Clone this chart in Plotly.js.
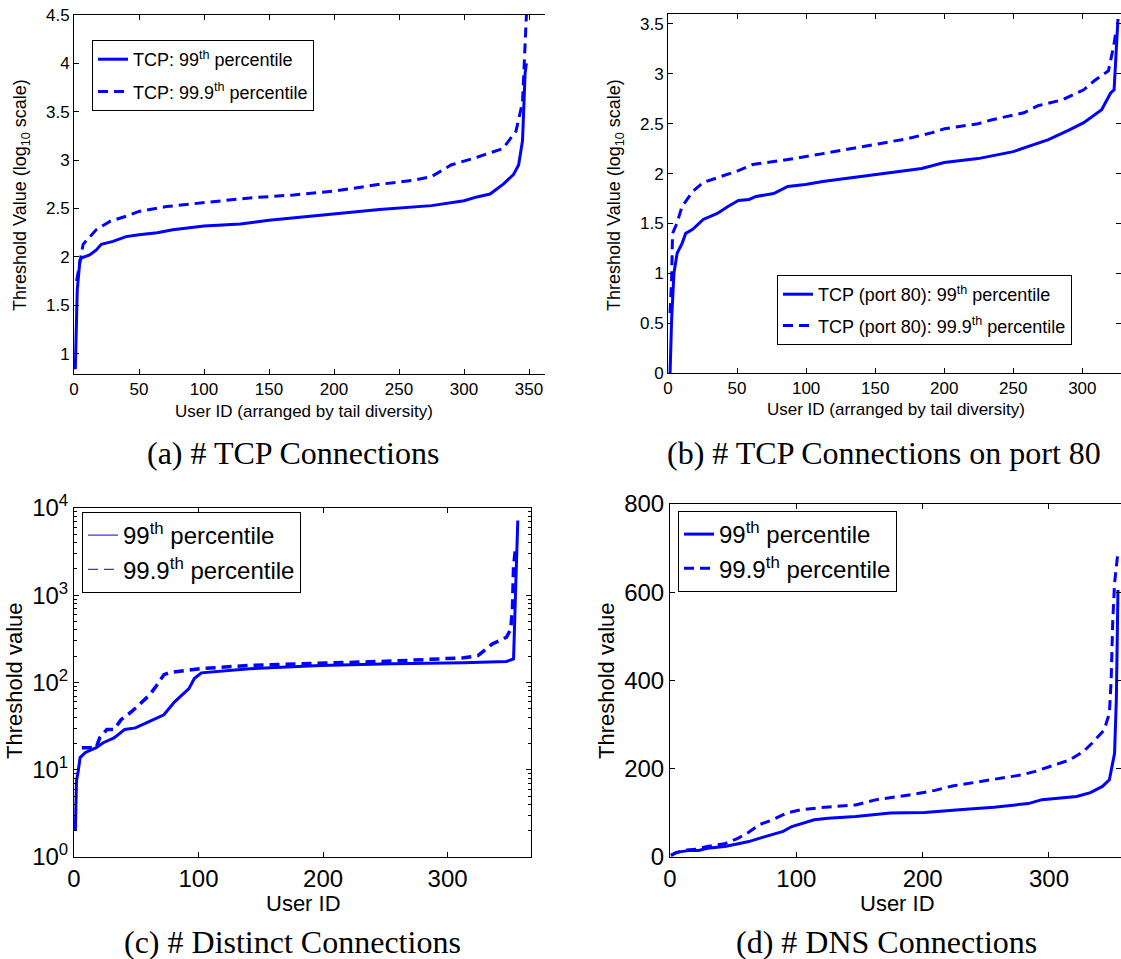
<!DOCTYPE html>
<html><head><meta charset="utf-8">
<script src="https://cdn.plot.ly/plotly-3.0.1.min.js"></script>
<style>html,body{margin:0;padding:0;background:#fff}#chart{width:1121px;height:959px}</style>
</head><body><div id="chart"></div>
<script>
// (a) # TCP Connections  (log10 threshold)
const aX99  = [1, 2.5, 4.6, 6, 12, 17, 21, 30, 40, 50, 64, 76, 100, 128, 150, 174, 200, 235, 275, 300, 310, 320, 330, 338, 342, 345, 347, 348];
const aY99  = [0.84, 1.66, 1.97, 1.99, 2.02, 2.07, 2.13, 2.16, 2.21, 2.23, 2.25, 2.28, 2.32, 2.34, 2.38, 2.41, 2.45, 2.49, 2.53, 2.58, 2.62, 2.65, 2.75, 2.85, 2.95, 3.2, 3.9, 4.0];
const aX999 = [2, 4.6, 7, 17, 28, 40, 50, 71, 100, 135, 169, 200, 235, 260, 275, 290, 310, 330, 340, 345, 348];
const aY999 = [1.75, 1.97, 2.13, 2.28, 2.37, 2.42, 2.47, 2.52, 2.56, 2.61, 2.64, 2.68, 2.75, 2.79, 2.83, 2.95, 3.03, 3.12, 3.3, 3.6, 4.5];
// (b) # TCP Connections on port 80
const bX99  = [1.5, 2.6, 4.3, 6.6, 10.2, 12.8, 17.9, 25.5, 35.7, 43.4, 51, 58.7, 63.8, 76.5, 86.7, 99.5, 112, 150.5, 183.7, 200, 224.5, 250, 260, 275.5, 291, 301, 314, 320.6, 323, 325.8];
const bY99  = [0, 0.53, 1.0, 1.2, 1.3, 1.4, 1.44, 1.54, 1.6, 1.67, 1.73, 1.74, 1.77, 1.8, 1.87, 1.89, 1.92, 1.99, 2.05, 2.11, 2.15, 2.22, 2.27, 2.34, 2.44, 2.51, 2.64, 2.81, 2.84, 3.55];
const bX999 = [1.5, 2.6, 3.3, 6.4, 10.2, 17.9, 25.5, 35.7, 51, 61.2, 86.7, 112.2, 150.5, 173.5, 191.3, 200.3, 224.5, 234.7, 257.7, 267.9, 285.7, 301, 308.7, 318.9, 322.7, 324.5];
const bY999 = [0.6, 0.94, 1.4, 1.5, 1.67, 1.82, 1.91, 1.96, 2.03, 2.09, 2.14, 2.2, 2.29, 2.35, 2.41, 2.45, 2.5, 2.54, 2.61, 2.68, 2.74, 2.84, 2.93, 3.03, 3.28, 3.44];
// (c) # Distinct Connections
const cX99  = [1.1, 2, 3.4, 4.9, 9.2, 17.8, 23.5, 32.1, 40.7, 49.3, 60.7, 72.2, 80.8, 86.5, 92.3, 96.6, 102.3, 141, 198, 255.6, 312.9, 347.3, 353, 354.4, 356.4];
const cY99  = [2.0, 7.5, 9.7, 13.8, 15.8, 17.9, 20.4, 23.2, 28.9, 30.2, 35.9, 42.7, 60, 72, 85, 111, 129, 144, 157, 164, 168, 174, 186, 890, 7200];
const cX999 = [6.3, 17.8, 20.6, 26.4, 32.1, 37.8, 46.4, 55, 60.7, 66.5, 72.2, 77.9, 100.9, 141, 198.3, 255.6, 312.9, 324.4, 335.8, 347.3, 350.7, 352.1, 353, 354.4];
const cY999 = [17.9, 17.9, 23.2, 28.9, 28.9, 37.5, 46.5, 60, 72, 93, 123, 131, 144, 157, 167, 176, 192, 203, 276, 330, 408, 690, 2130, 3300];
// (d) # DNS Connections
const dX99  = [0.8, 4.9, 15.8, 22.7, 29.5, 43.2, 54.1, 62.3, 73.2, 84.2, 89.6, 96.4, 103.3, 114.2, 125.1, 147, 174.3, 201.6, 229, 256.3, 283.6, 294.5, 321.9, 332.8, 342.3, 347.8, 351.9, 353.3, 354.6];
const dY99  = [3, 10.6, 15, 15, 20, 24, 30, 35, 44.5, 54, 58, 69, 75, 84.5, 88, 92, 99.6, 101, 107, 113, 121, 130, 137, 146, 160, 175, 235, 356, 605];
const dX999 = [0.8, 10.4, 21.3, 29.5, 43.2, 54.1, 62.3, 70.5, 81.4, 92.3, 103.3, 119.7, 147, 163.4, 190.7, 209.8, 223.5, 245.4, 261.7, 278.1, 289.1, 300, 316.4, 327.3, 335.5, 343.7, 347.8, 349.2, 350.5, 351.9, 354.6];
const dY999 = [5, 15, 18, 24, 30, 43, 56, 73, 84.5, 99.6, 107, 112, 118, 130, 141, 151, 161, 171, 177, 186, 194, 205, 220, 239, 262, 288, 326, 401, 537, 620, 692];

const legA = ['TCP: 99<sup>th</sup> percentile', 'TCP: 99.9<sup>th</sup> percentile'];
const legB = ['TCP (port 80): 99<sup>th</sup> percentile', 'TCP (port 80): 99.9<sup>th</sup> percentile'];
const legCD = ['99<sup>th</sup> percentile', '99.9<sup>th</sup> percentile'];
const captions = ['(a) # TCP Connections', '(b) # TCP Connections on port 80', '(c) # Distinct Connections', '(d) # DNS Connections'];
const cTickVals = [1, 10, 100, 1000, 10000];
const cTickText = ['10<sup>0</sup>', '10<sup>1</sup>', '10<sup>2</sup>', '10<sup>3</sup>', '10<sup>4</sup>'];
const cMinorTicks = [2, 3, 4, 5, 6, 7, 8, 9, 20, 30, 40, 50, 60, 70, 80, 90, 200, 300, 400, 500, 600, 700, 800, 900,
                     2000, 3000, 4000, 5000, 6000, 7000, 8000, 9000];

const W = 1121, H = 959;
const fx = p => p / W, fy = p => 1 - p / H;
const BLUE = '#0000ff', DASH = '10px,6px';
const SANS = 'Liberation Sans, Arial, sans-serif';
const SERIF = 'Liberation Serif, Times New Roman, serif';

function line(x, y, xa, ya, name, dashed, leg, w, show, grp) {
  return {x, y, xaxis: xa, yaxis: ya, name, type: 'scatter', mode: 'lines',
    line: {color: BLUE, width: w, dash: dashed ? DASH : 'solid'},
    legend: leg, legendgroup: grp, showlegend: show, hoverinfo: 'skip'};
}
const traces = [
  line(aX99, aY99, 'x', 'y', legA[0], false, 'legend', 3, true, 'a1'),
  line(aX999, aY999, 'x', 'y', legA[1], true, 'legend', 3, true, 'a2'),
  line(bX99, bY99, 'x2', 'y2', legB[0], false, 'legend2', 3, true, 'b1'),
  line(bX999, bY999, 'x2', 'y2', legB[1], true, 'legend2', 3, true, 'b2'),
  line([null], [null], 'x3', 'y5', '', false, 'legend3', 1, false, 'c0'),
  line(cX99, cY99, 'x3', 'y3', legCD[0], false, 'legend3', 3, false, 'c1'),
  line(cX999, cY999, 'x3', 'y3', legCD[1], true, 'legend3', 3.5, false, 'c2'),
  line([null], [null], 'x3', 'y3', legCD[0], false, 'legend3', 1, true, 'c1'),
  line([null], [null], 'x3', 'y3', legCD[1], true, 'legend3', 1, true, 'c2'),
  line(dX99, dY99, 'x4', 'y4', legCD[0], false, 'legend4', 3, true, 'd1'),
  line(dX999, dY999, 'x4', 'y4', legCD[1], true, 'legend4', 3, true, 'd2')
];

function ax(extra, fs) {
  return Object.assign({showline: true, linecolor: '#000', linewidth: 1, ticks: 'inside', ticklen: 5,
    tickcolor: '#000', showgrid: false, zeroline: false, tickfont: {family: SANS, size: fs, color: '#000'}}, extra);
}
function legend(x0, y0, fs, gap) {
  return {x: fx(x0), y: fy(y0), xanchor: 'left', yanchor: 'top', bgcolor: '#fff', bordercolor: '#000',
    borderwidth: 1, font: {family: SANS, size: fs, color: '#000'}, tracegroupgap: gap};
}
function ann(text, x, y, fs, fam, angle) {
  return {text, x: fx(x), y: fy(y), xref: 'paper', yref: 'paper', xanchor: 'center', yanchor: 'middle',
    showarrow: false, textangle: angle || 0, font: {family: fam, size: fs, color: '#000'}};
}

const layout = {
  width: W, height: H, margin: {l: 0, r: 0, t: 0, b: 0}, paper_bgcolor: '#fff', plot_bgcolor: '#fff',
  showlegend: true,
  xaxis:  ax({domain: [fx(74), fx(545)], range: [0, 362.3], dtick: 50, tick0: 0, mirror: 'ticks', anchor: 'y'}, 17),
  yaxis:  ax({domain: [fy(374), fy(15)], range: [0.79, 4.5], dtick: 0.5, tick0: 0, mirror: false, anchor: 'x'}, 17),
  xaxis2: ax({domain: [fx(668), 1], range: [0, 328], dtick: 50, tick0: 0, mirror: 'ticks', anchor: 'y2'}, 17),
  yaxis2: ax({domain: [fy(373), fy(14)], range: [0, 3.6], dtick: 0.5, tick0: 0, mirror: 'ticks', anchor: 'x2'}, 17),
  xaxis3: ax({domain: [fx(74), fx(531)], range: [0, 367], dtick: 100, tick0: 0, mirror: 'ticks', anchor: 'y3'}, 24),
  yaxis3: ax({domain: [fy(857), fy(508)], type: 'log', range: [0, 4], tickvals: cTickVals, ticktext: cTickText,
              mirror: 'ticks', anchor: 'x3'}, 24),
  yaxis5: ax({domain: [fy(857), fy(508)], type: 'log', range: [0, 4], tickvals: cMinorTicks, ticklen: 3,
              showticklabels: false, mirror: 'ticks', anchor: 'x3', overlaying: 'y3'}, 24),
  xaxis4: ax({domain: [fx(670), 1], range: [0, 357], dtick: 100, tick0: 0, mirror: 'ticks', anchor: 'y4'}, 24),
  yaxis4: ax({domain: [fy(857), fy(504)], range: [0, 800], dtick: 200, tick0: 0, mirror: 'ticks', anchor: 'x4'}, 24),
  legend:  legend(92, 40, 18, 6),
  legend2: legend(777, 275, 18, 5),
  legend3: legend(82, 512, 24, 0),
  legend4: legend(678, 511, 24, 0),
  annotations: [
    ann('Threshold Value (log<sub>10</sub> scale)', 22, 195, 18, SANS, -90),
    ann('User ID (arranged by tail diversity)', 304, 411, 17, SANS),
    ann('Threshold Value (log<sub>10</sub> scale)', 616, 195, 18, SANS, -90),
    ann('User ID (arranged by tail diversity)', 896, 410, 17, SANS),
    ann('Threshold value', 14, 681, 22, SANS, -90),
    ann('User ID', 303, 903, 22, SANS),
    ann('Threshold value', 606, 681, 22, SANS, -90),
    ann('User ID', 897, 903, 22, SANS),
    ann(captions[0], 293, 453, 32, SERIF),
    ann(captions[1], 884, 453, 32, SERIF),
    ann(captions[2], 292, 942, 32, SERIF),
    ann(captions[3], 886, 942, 32, SERIF)
  ]
};
Plotly.newPlot('chart', traces, layout, {displayModeBar: false, staticPlot: true});
</script></body></html>
